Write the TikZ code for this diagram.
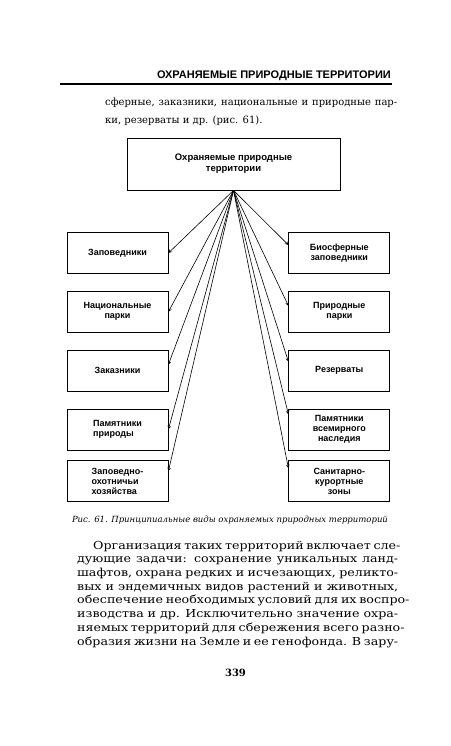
\documentclass[tikz,border=0pt]{standalone}
\usepackage{fontspec}
\setmainfont{DejaVu Serif}
\newfontfamily\blockfont{Liberation Sans}
\newfontfamily\bodyfont[FakeStretch=1.15]{DejaVu Serif}
\usetikzlibrary{positioning}
\usetikzlibrary{calc}

\newcommand{\fullline}[2]{\makebox[#1][s]{#2}}

\begin{document}
\begin{tikzpicture}[x=1pt,y=-1pt,
      elementblock/.style={draw,rectangle,line width=0.8pt,minimum height=41pt,minimum width=101pt,
        inner sep=2pt,align=center,font=\blockfont\bfseries\fontsize{9}{10}\selectfont},
      linkarrow/.style={-{stealth},line width=0.6pt},
      pagetext/.style={anchor=base west,align=left,inner sep=0pt},
      node distance=17pt]
    \useasboundingbox (0,0) rectangle (450,746);

    % Page head
    \node[anchor=east,inner sep=0pt,font=\blockfont\bfseries\fontsize{11}{12}\selectfont] (head) at (391,76) {ОХРАНЯЕМЫЕ ПРИРОДНЫЕ ТЕРРИТОРИИ};
    \draw[line width=1.3pt] (60,84) -- (392,84);

    % Text above the figure (base = last line)
    \node[pagetext,font=\fontsize{10}{18}\selectfont] (textabove) at (105,124)
      {\fullline{292pt}{сферные, заказники, национальные и природные пар-}\\
       ки, резерваты и др. (рис. 61).};

    % Blocks
    \node[elementblock,minimum width=213pt,minimum height=52pt,font=\blockfont\bfseries\fontsize{9.5}{11}\selectfont]
                                              (territory) at (233.5,164) {Охраняемые природные\\территории};
    \node[elementblock]                       (zapov)   at (117.5,253) {Заповедники};
    \node[elementblock,below=of zapov]        (natpark) {Национальные\\парки};
    \node[elementblock,below=of natpark]      (zakaz)   {Заказники};
    \node[elementblock,below=of zakaz,align=left]     (monnat) {Памятники\\природы};
    \node[elementblock,below=10pt of monnat,align=left] (hunt) {Заповедно-\\охотничьи\\хозяйства};

    \node[elementblock,right=120pt of zapov]  (biosph)  {Биосферные\\заповедники};
    \node[elementblock,below=of biosph]       (natural) {Природные\\парки};
    \node[elementblock,below=of natural]      (reserv)  {Резерваты};
    \node[elementblock,below=of reserv]       (world)   {Памятники\\всемирного\\наследия};
    \node[elementblock,below=10pt of world]   (resort)  {Санитарно-\\курортные\\зоны};

    % Arrows
    \foreach \blk/\dy in {zapov/0,natpark/0,zakaz/-6,monnat/0,hunt/-10}
      \draw[linkarrow] (territory.south) -- ($(\blk.east)+(0,\dy)$);
    \foreach \blk/\dy in {biosph/-8,natural/-6,reserv/-9,world/-15,resort/-13}
      \draw[linkarrow] (territory.south) -- ($(\blk.west)+(0,\dy)$);

    % Caption and text below (base = last line)
    \node[inner sep=0pt,font=\itshape\fontsize{8.5}{10}\selectfont] (caption) at (230,520)
      {Рис. 61. Принципиальные виды охраняемых природных территорий};
    \node[pagetext,font=\bodyfont\fontsize{11}{13.7}\selectfont] (bodytext) at (77,645)
      {\hspace*{16pt}\fullline{305pt}{Организация таких территорий включает сле-}\\
       \fullline{321pt}{дующие задачи: сохранение уникальных ланд-}\\
       \fullline{321pt}{шафтов, охрана редких и исчезающих, реликто-}\\
       \fullline{321pt}{вых и эндемичных видов растений и животных,}\\
       \fullline{321pt}{обеспечение необходимых условий для их воспро-}\\
       \fullline{321pt}{изводства и др. Исключительно значение охра-}\\
       \fullline{321pt}{няемых территорий для сбережения всего разно-}\\
       \fullline{321pt}{образия жизни на Земле и ее генофонда. В зару-}};
    \node[inner sep=0pt,font=\bfseries\fontsize{10}{12}\selectfont] (pagenum) at (235.5,673) {339};

  \end{tikzpicture}
\end{document}
